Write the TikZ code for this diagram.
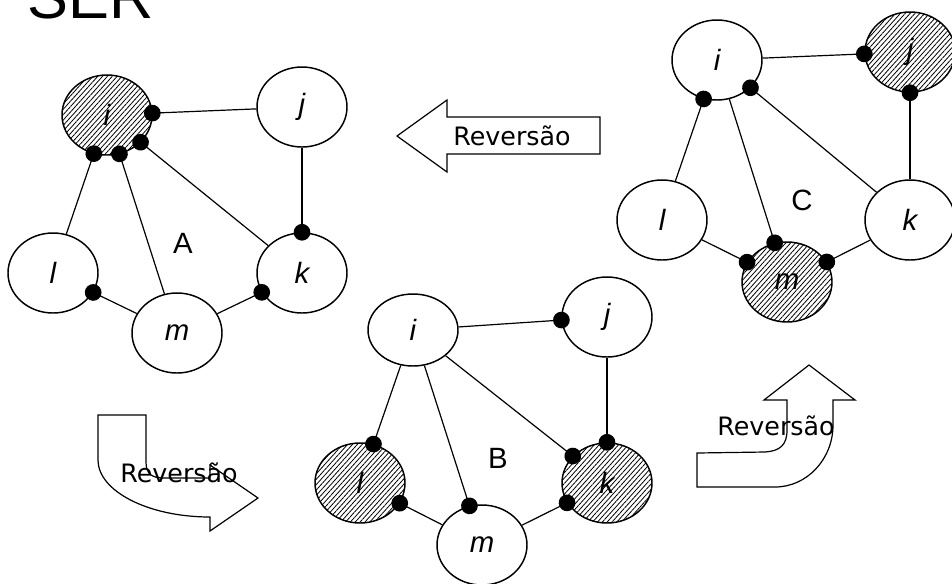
\documentclass[tikz,border=0pt]{standalone}
\usepackage{fontspec}
\newfontfamily\labfont{Liberation Sans}
\newfontfamily\revfont{DejaVu Sans}
\usetikzlibrary{shapes.geometric,arrows.meta,patterns.meta}

\tikzset{
  vtx/.style={ellipse, draw, line width=1.1pt, minimum width=67.5pt,
    minimum height=60pt, inner sep=0pt,
    font=\labfont\itshape\fontsize{22}{22}\selectfont},
  hatched/.style={pattern={Lines[angle=48,distance=2.7pt,line width=0.6pt]}},
  sink/.style={line width=0.9pt, -{Circle[length=12.5pt]}, shorten >=-6.25pt},
  glabel/.style={font=\labfont\fontsize{22}{22}\selectfont, inner sep=0pt},
  blockarrow/.style={draw, line width=0.9pt, line join=miter},
  revtext/.style={font=\revfont\fontsize{19}{19}\selectfont, inner sep=0pt, anchor=base},
}

\begin{document}
\begin{tikzpicture}[x=0.75pt,y=-0.75pt]
\useasboundingbox (0,0) rectangle (952,583);

% title
\node[anchor=base west, inner sep=0pt, font=\labfont\fontsize{46}{46}\selectfont] (title) at (27,18) {SER};

% ---------- graph A ----------
\node[vtx,hatched] (Ai) at (107,115) {i};
\node[vtx] (Aj) at (302,107) {j};
\node[vtx] (Al) at (53,273) {l};
\node[vtx] (Ak) at (302,273) {k};
\node[vtx] (Am) at (177,333) {m};
\node[glabel] (Alab) at (183,243) {A};
\draw[sink] (Aj) -- (Ai);
\draw[sink] (Al) -- (Ai);
\draw[sink] (Am) -- (Ai);
\draw[sink] (Ak) -- (Ai);
\draw[sink] (Aj) -- (Ak);
\draw[sink] (Am) -- (Al);
\draw[sink] (Am) -- (Ak);

% ---------- graph B ----------
\node[vtx, minimum height=54pt] (Bi) at (413,330) {i};
\node[vtx] (Bj) at (607,317) {j};
\node[vtx,hatched] (Bl) at (360,483) {l};
\node[vtx,hatched] (Bk) at (607,483) {k};
\node[vtx] (Bm) at (482,545) {m};
\node[glabel] (Blab) at (498,458) {B};
\draw[sink] (Bi) -- (Bj);
\draw[sink] (Bj) -- (Bk);
\draw[sink] (Bi) -- (Bl);
\draw[sink] (Bi) -- (Bm);
\draw[sink] (Bi) -- (Bk);
\draw[sink] (Bm) -- (Bl);
\draw[sink] (Bm) -- (Bk);

% ---------- graph C ----------
\node[vtx] (Ci) at (717,60) {i};
\node[vtx,hatched] (Cj) at (910,52) {j};
\node[vtx] (Cl) at (662,220) {l};
\node[vtx] (Ck) at (910,220) {k};
\node[vtx,hatched] (Cm) at (787,282) {m};
\node[glabel] (Clab) at (802,200) {C};
\draw[sink] (Ci) -- (Cj);
\draw[sink] (Ck) -- (Cj);
\draw[sink] (Cl) -- (Ci);
\draw[sink] (Ck) -- (Ci);
\draw[sink] (Ci) -- (Cm);
\draw[sink] (Cl) -- (Cm);
\draw[sink] (Ck) -- (Cm);

% ---------- reversal arrows ----------
% straight arrow pointing left (C to A)
\draw[blockarrow] (397,136) -- (447,100) -- (447,117) -- (600,117)
  -- (600,154) -- (447,154) -- (447,172) -- cycle;
\node[revtext] (revCA) at (512,145) {Reversão};

% bent arrow, down then right (A to B)
\draw[blockarrow] (98,415) -- (146,415) -- (146,462)
  .. controls (146,474) and (152,478) .. (164,478) -- (210,478)
  -- (210,465) -- (258,498) -- (210,531) -- (210,517)
  .. controls (148,517) and (98,491) .. (98,460) -- cycle;
\node[revtext] (revAB) at (179,482) {Reversão};

% bent arrow, right then up (B to C)
\draw[blockarrow] (697,453) -- (765,452)
  .. controls (780,451) and (787,445) .. (787,430) -- (787,400)
  -- (764,400) -- (809,365) -- (855,400) -- (833,400) -- (833,425)
  .. controls (833,459) and (807,487) .. (775,487) -- (697,487) -- cycle;
\node[revtext] (revBC) at (776,435) {Reversão};

\end{tikzpicture}
\end{document}
